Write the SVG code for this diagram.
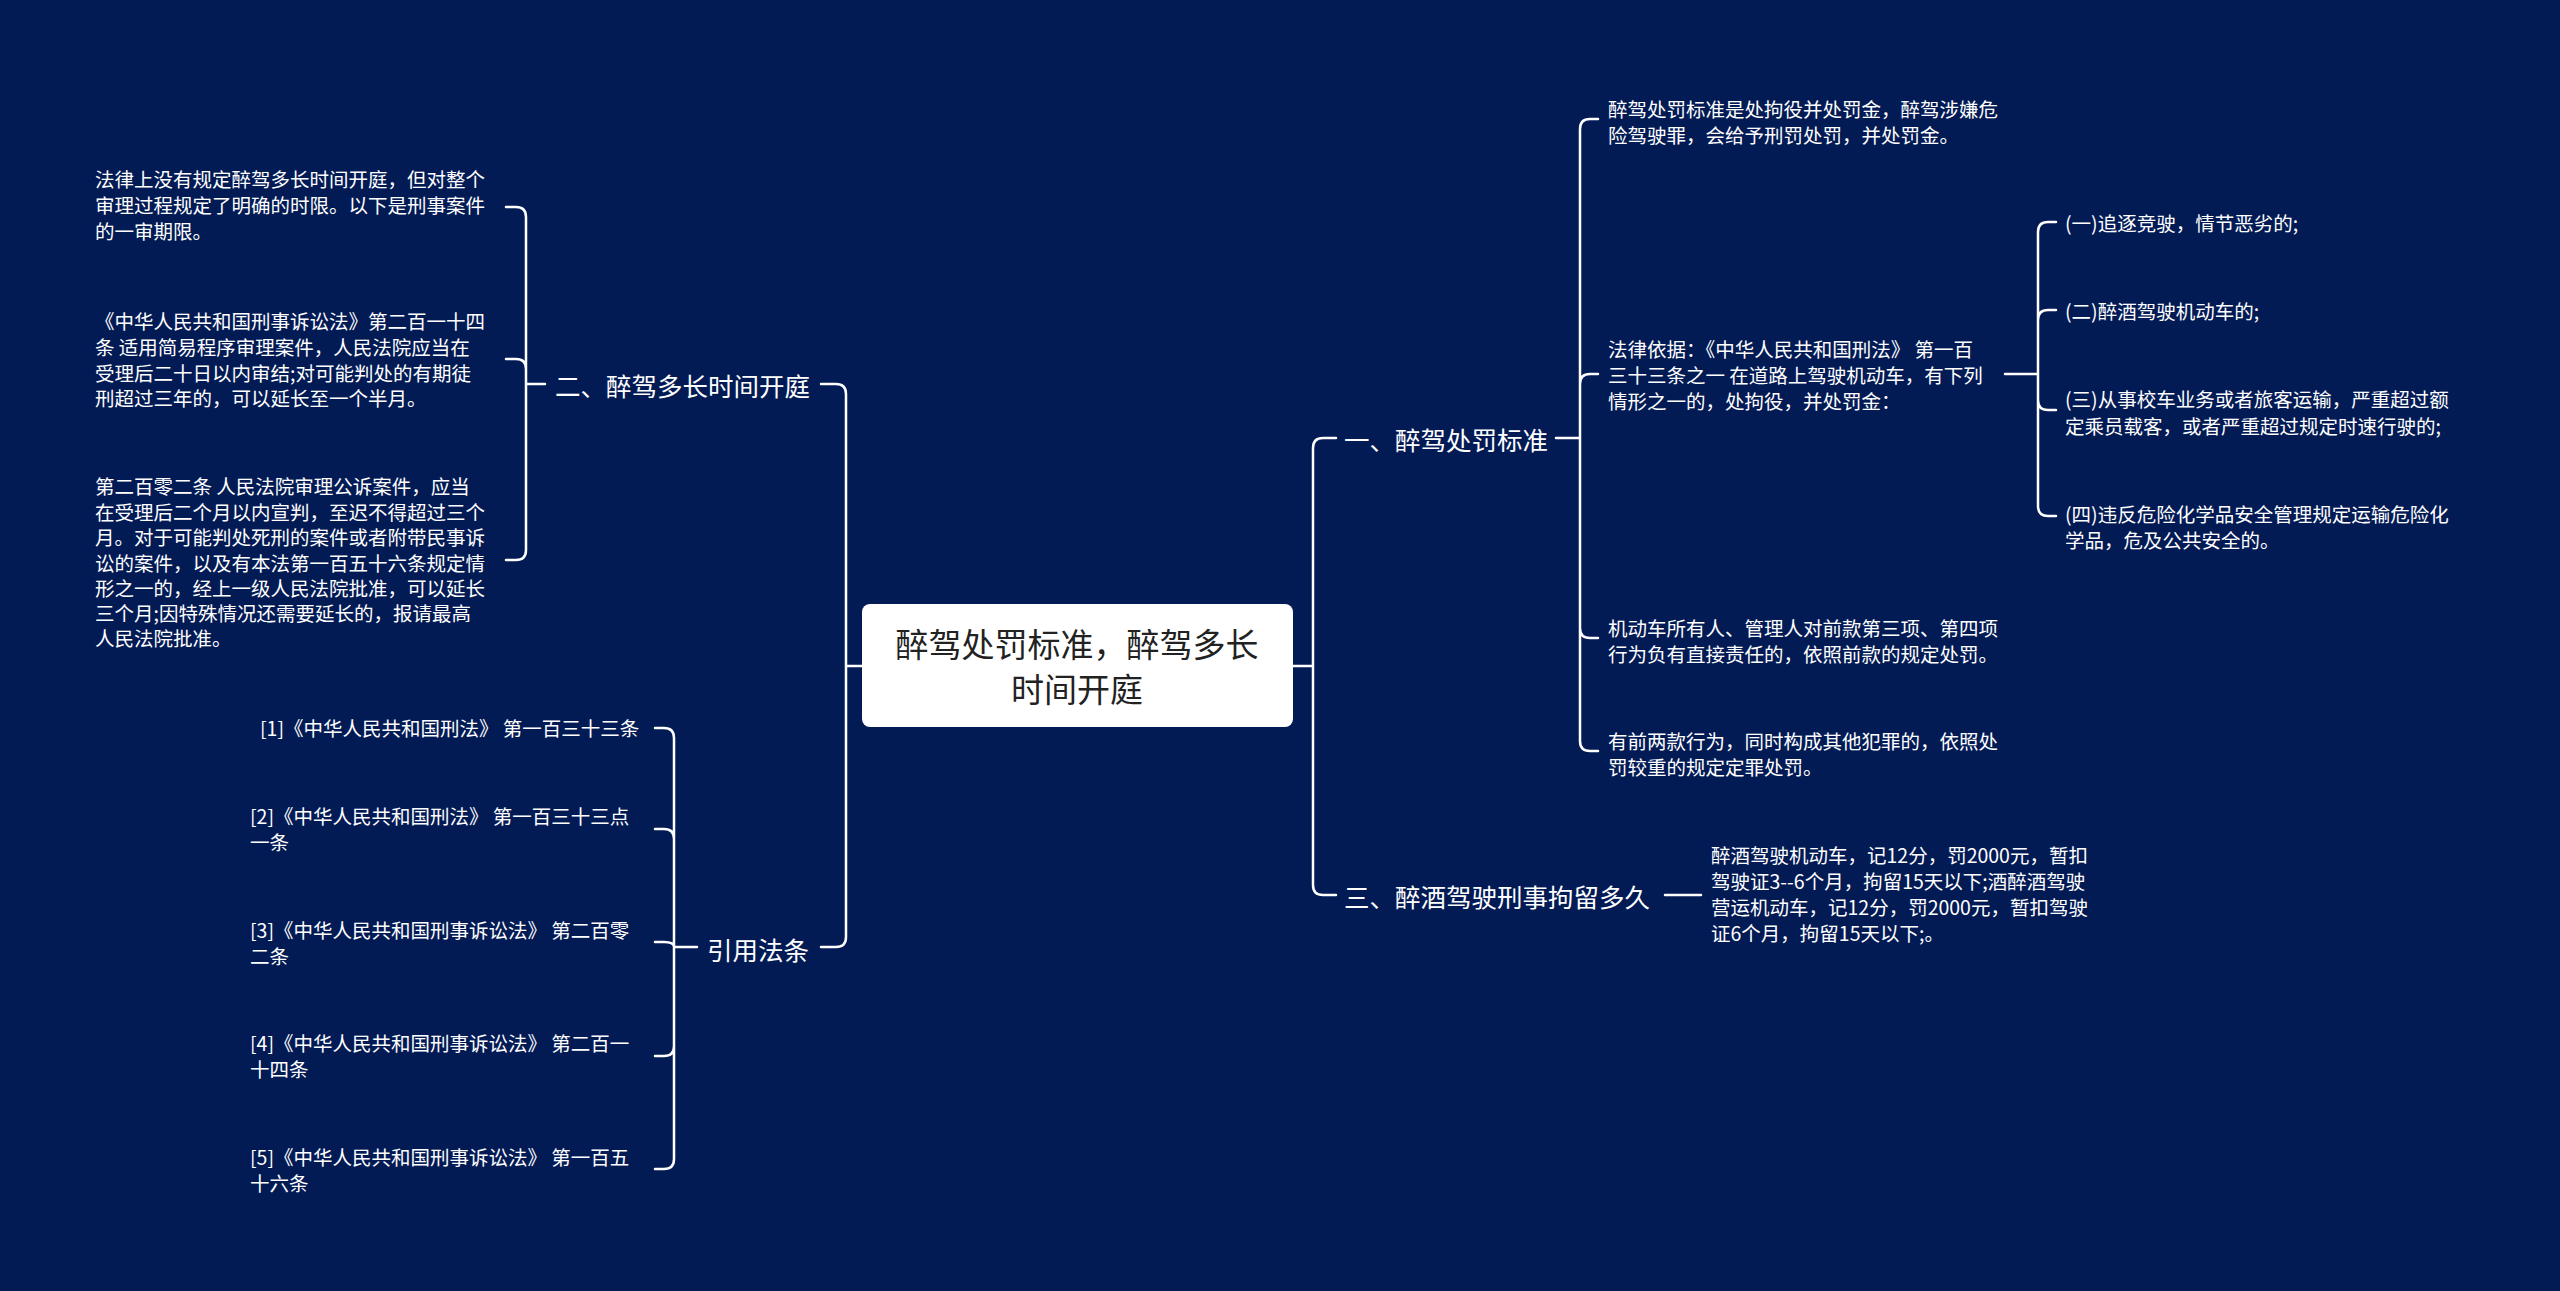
<svg xmlns="http://www.w3.org/2000/svg" width="2560" height="1291" viewBox="0 0 2560 1291">
<style>
text{font-family:"Microsoft YaHei","Noto Sans CJK SC",sans-serif;fill:#fff;dominant-baseline:central}
.s{font-size:19.5px}
.b{font-size:25.5px}
.c{font-size:33px;fill:#222;text-anchor:middle}
#links path{fill:none;stroke:#fff;stroke-width:2.5;stroke-linecap:round}
</style>
<rect width="2560" height="1291" fill="#031b55"/>
<g id="links">
<path d="M862 666H846M846 666V394Q846 384 836 384H821M846 666V937Q846 947 836 947H821"/>
<path d="M545 384H526M526 384V217Q526 207 516 207H506M526 384V369Q526 359 516 359H506M526 384V550Q526 560 516 560H506"/>
<path d="M697 947H674M674 947V738Q674 728 664 728H655M674 947V839Q674 829 664 829H655M674 947Q674 942 664 942H655M674 947V1046Q674 1056 664 1056H655M674 947V1159Q674 1169 664 1169H655"/>
<path d="M1293 666H1313M1313 666V448Q1313 438 1323 438H1336M1313 666V885Q1313 895 1323 895H1336"/>
<path d="M1556 438H1580M1580 438V129Q1580 119 1590 119H1598M1580 438V384Q1580 374 1590 374H1598M1580 438V628Q1580 638 1590 638H1598M1580 438V741Q1580 751 1590 751H1598"/>
<path d="M2005 374H2038M2038 374V232Q2038 222 2048 222H2056M2038 374V320Q2038 310 2048 310H2056M2038 374V400Q2038 410 2048 410H2056M2038 374V506Q2038 516 2048 516H2056"/>
<path d="M1665 895H1701"/>
</g>
<g id="root"><rect x="862" y="604" width="431" height="123" rx="8" fill="#fff"/><text class="c" x="1077" y="643">醉驾处罚标准，醉驾多长</text><text class="c" x="1077" y="688">时间开庭</text></g>
<g id="n2"><text class="b" x="555" y="384">二、醉驾多长时间开庭</text></g>
<g id="n2a"><text class="s" x="95" y="178">法律上没有规定醉驾多长时间开庭，但对整个</text><text class="s" x="95" y="204">审理过程规定了明确的时限。以下是刑事案件</text><text class="s" x="95" y="230">的一审期限。</text></g>
<g id="n2b"><text class="s" x="95" y="320">《中华人民共和国刑事诉讼法》第二百一十四</text><text class="s" x="95" y="346">条 适用简易程序审理案件，人民法院应当在</text><text class="s" x="95" y="372">受理后二十日以内审结;对可能判处的有期徒</text><text class="s" x="95" y="397">刑超过三年的，可以延长至一个半月。</text></g>
<g id="n2c"><text class="s" x="95" y="485">第二百零二条 人民法院审理公诉案件，应当</text><text class="s" x="95" y="511">在受理后二个月以内宣判，至迟不得超过三个</text><text class="s" x="95" y="536">月。对于可能判处死刑的案件或者附带民事诉</text><text class="s" x="95" y="562">讼的案件，以及有本法第一百五十六条规定情</text><text class="s" x="95" y="587">形之一的，经上一级人民法院批准，可以延长</text><text class="s" x="95" y="612">三个月;因特殊情况还需要延长的，报请最高</text><text class="s" x="95" y="637">人民法院批准。</text></g>
<g id="n4"><text class="b" x="707" y="948">引用法条</text></g>
<g id="r1"><text class="s" x="260" y="727">[1]《中华人民共和国刑法》 第一百三十三条</text></g>
<g id="r2"><text class="s" x="250" y="815">[2]《中华人民共和国刑法》 第一百三十三点</text><text class="s" x="250" y="841">一条</text></g>
<g id="r3"><text class="s" x="250" y="929">[3]《中华人民共和国刑事诉讼法》 第二百零</text><text class="s" x="250" y="955">二条</text></g>
<g id="r4"><text class="s" x="250" y="1042">[4]《中华人民共和国刑事诉讼法》 第二百一</text><text class="s" x="250" y="1068">十四条</text></g>
<g id="r5"><text class="s" x="250" y="1156">[5]《中华人民共和国刑事诉讼法》 第一百五</text><text class="s" x="250" y="1182">十六条</text></g>
<g id="n1"><text class="b" x="1344" y="438">一、醉驾处罚标准</text></g>
<g id="n1a"><text class="s" x="1608" y="108">醉驾处罚标准是处拘役并处罚金，醉驾涉嫌危</text><text class="s" x="1608" y="134">险驾驶罪，会给予刑罚处罚，并处罚金。</text></g>
<g id="n1b"><text class="s" x="1608" y="348">法律依据：《中华人民共和国刑法》 第一百</text><text class="s" x="1608" y="374">三十三条之一 在道路上驾驶机动车，有下列</text><text class="s" x="1608" y="400">情形之一的，处拘役，并处罚金：</text></g>
<g id="s1"><text class="s" x="2065" y="222">(一)追逐竞驶，情节恶劣的;</text></g>
<g id="s2"><text class="s" x="2065" y="310">(二)醉酒驾驶机动车的;</text></g>
<g id="s3"><text class="s" x="2065" y="398">(三)从事校车业务或者旅客运输，严重超过额</text><text class="s" x="2065" y="425">定乘员载客，或者严重超过规定时速行驶的;</text></g>
<g id="s4"><text class="s" x="2065" y="513">(四)违反危险化学品安全管理规定运输危险化</text><text class="s" x="2065" y="539">学品，危及公共安全的。</text></g>
<g id="n1c"><text class="s" x="1608" y="627">机动车所有人、管理人对前款第三项、第四项</text><text class="s" x="1608" y="653">行为负有直接责任的，依照前款的规定处罚。</text></g>
<g id="n1d"><text class="s" x="1608" y="740">有前两款行为，同时构成其他犯罪的，依照处</text><text class="s" x="1608" y="766">罚较重的规定定罪处罚。</text></g>
<g id="n3"><text class="b" x="1344" y="895">三、醉酒驾驶刑事拘留多久</text></g>
<g id="n3a"><text class="s" x="1711" y="854">醉酒驾驶机动车，记12分，罚2000元，暂扣</text><text class="s" x="1711" y="880">驾驶证3--6个月，拘留15天以下;酒醉酒驾驶</text><text class="s" x="1711" y="906">营运机动车，记12分，罚2000元，暂扣驾驶</text><text class="s" x="1711" y="932">证6个月，拘留15天以下;。</text></g>
</svg>
